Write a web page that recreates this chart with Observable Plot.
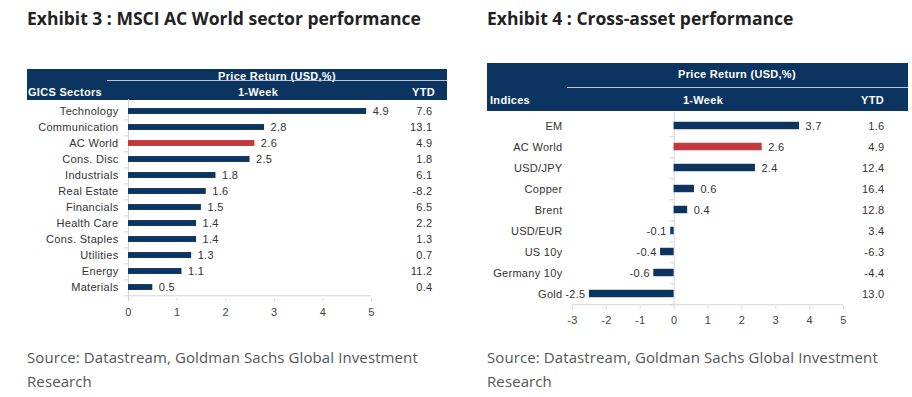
<!DOCTYPE html>
<html>
<head>
<meta charset="utf-8">
<script src="https://cdn.jsdelivr.net/npm/d3@7"></script>
<script src="https://cdn.jsdelivr.net/npm/@observablehq/plot@0.6"></script>
<style>
  html, body { margin: 0; padding: 0; background: #fff; }
  #page { position: relative; width: 912px; height: 397px; overflow: hidden; font-family: "Liberation Sans", Arial, sans-serif; }
  .title { position: absolute; top: 6px; font-family: "Open Sans", sans-serif; font-weight: 700; font-size: 17.5px; color: #222; letter-spacing: 0px; white-space: nowrap; }
  .head { position: absolute; background: #0b3461; color: #fff; font-weight: 700; font-size: 11px; letter-spacing: 0.3px; }
  .head span { position: absolute; white-space: nowrap; line-height: 12px; }
  .head .rule { position: absolute; height: 1px; background: #b9c6d6; right: 0; }
  .chart { position: absolute; }
  .source { position: absolute; top: 345px; font-family: "Open Sans", sans-serif; font-size: 15px; line-height: 24px; color: #555; letter-spacing: 0.1px; white-space: nowrap; }
</style>
</head>
<body>
<div id="page">
  <div class="title" style="left:27px">Exhibit 3 : MSCI AC World sector performance</div>
  <div class="title" style="left:487px">Exhibit 4 : Cross-asset performance</div>

  <div class="head" style="left:27px; top:69px; width:420px; height:31px;">
    <span style="left:0; width:500px; text-align:center; top:1px;">Price Return (USD,%)</span>
    <div class="rule" style="left:80px; top:11px;"></div>
    <span style="left:1px; top:17px;">GICS Sectors</span>
    <span style="left:0; width:462px; text-align:center; top:17px;">1-Week</span>
    <span style="right:12px; top:17px;">YTD</span>
  </div>

  <div class="head" style="left:487px; top:63px; width:421px; height:48px;">
    <span style="left:0; width:500px; text-align:center; top:5px;">Price Return (USD,%)</span>
    <div class="rule" style="left:80px; top:24px;"></div>
    <span style="left:3px; top:31px;">Indices</span>
    <span style="left:0; width:432px; text-align:center; top:31px;">1-Week</span>
    <span style="right:24px; top:31px;">YTD</span>
  </div>

  <div id="left" class="chart" style="left:0; top:90px;"></div>
  <div id="right" class="chart" style="left:480px; top:100px;"></div>

  <div class="source" style="left:27px">Source: Datastream, Goldman Sachs Global Investment<br>Research</div>
  <div class="source" style="left:487px">Source: Datastream, Goldman Sachs Global Investment<br>Research</div>
</div>

<script>
// MSCI AC World sectors: 1-week and year-to-date price returns (USD, %)
const sectors = ["Technology", "Communication", "AC World", "Cons. Disc", "Industrials", "Real Estate",
                 "Financials", "Health Care", "Cons. Staples", "Utilities", "Energy", "Materials"];
const sectorWeek = [4.9, 2.8, 2.6, 2.5, 1.8, 1.6, 1.5, 1.4, 1.4, 1.3, 1.1, 0.5];
const sectorYtd = ["7.6", "13.1", "4.9", "1.8", "6.1", "-8.2", "6.5", "2.2", "1.3", "0.7", "11.2", "0.4"];
const sectorTicks = [0, 1, 2, 3, 4, 5];

// Cross-asset indices: 1-week and year-to-date price returns (USD, %)
const assets = ["EM", "AC World", "USD/JPY", "Copper", "Brent", "USD/EUR", "US 10y", "Germany 10y", "Gold"];
const assetWeek = [3.7, 2.6, 2.4, 0.6, 0.4, -0.1, -0.4, -0.6, -2.5];
const assetYtd = ["1.6", "4.9", "12.4", "16.4", "12.8", "3.4", "-6.3", "-4.4", "13.0"];
const assetTicks = [-3, -2, -1, 0, 1, 2, 3, 4, 5];

const highlight = "AC World";
const navy = "#0b3461";
const red = "#c4383b";
const gridGrey = "#d4d4d4";

function panel({names, week, ytd, ticks, width, height, marginLeft, marginRight, marginTop, marginBottom, barHeight, ytdOffset, labelPad}) {
  const rows = names.map((name, i) => ({name, week: week[i], ytd: ytd[i]}));
  const innerH = height - marginTop - marginBottom;
  const step = innerH / names.length;
  const inset = (step - barHeight) / 2;
  const lo = ticks[0], hi = ticks[ticks.length - 1];
  const labelStyle = {fill: "#333", fontSize: 11};
  return Plot.plot({
    width, height, marginLeft, marginRight, marginTop, marginBottom,
    style: {fontFamily: "'Liberation Sans', Arial, sans-serif", fontSize: "11px", color: "#333", background: "transparent", letterSpacing: "0.3px"},
    x: {domain: [lo, hi], label: null},
    y: {domain: names, padding: 0, label: null},
    marks: [
      // bottom axis line and the zero line
      Plot.ruleY([names[names.length - 1]], {y: d => d, dy: step / 2, x1: lo, x2: hi, stroke: gridGrey}),
      Plot.ruleX([0], {stroke: gridGrey}),
      // small tick marks between categories on the zero line
      Plot.ruleY(names, {y: d => d, x1: 0, x2: 0, insetLeft: -4, dy: step / 2, stroke: gridGrey}),
      Plot.barX(rows, {y: "name", x: "week", fill: d => d.name === highlight ? red : navy, insetTop: inset, insetBottom: inset}),
      // 1-week value labels beside the bar ends
      Plot.text(rows.filter(d => d.week >= 0), {y: "name", x: "week", text: d => d.week.toFixed(1), textAnchor: "start", dx: 6, ...labelStyle}),
      Plot.text(rows.filter(d => d.week < 0), {y: "name", x: "week", text: d => d.week.toFixed(1), textAnchor: "end", dx: -4, ...labelStyle}),
      // YTD column
      Plot.text(rows, {y: "name", text: "ytd", frameAnchor: "right", textAnchor: "end", dx: ytdOffset, ...labelStyle}),
      Plot.axisY({tickSize: 0, tickPadding: labelPad, label: null, ...labelStyle}),
      Plot.axisX({ticks, tickFormat: d => String(d), tickSize: 3, tickPadding: 7, stroke: gridGrey, label: null, fill: "#444", fontSize: 11})
    ]
  });
}

document.getElementById("left").append(panel({
  names: sectors, week: sectorWeek, ytd: sectorYtd, ticks: sectorTicks,
  width: 456, height: 233, marginLeft: 128, marginRight: 85, marginTop: 9, marginBottom: 25,
  barHeight: 6.5, ytdOffset: 61, labelPad: 10
}));

document.getElementById("right").append(panel({
  names: assets, week: assetWeek, ytd: assetYtd, ticks: assetTicks,
  width: 432, height: 231, marginLeft: 92, marginRight: 69, marginTop: 12, marginBottom: 25,
  barHeight: 8, ytdOffset: 41, labelPad: 10
}));
</script>
</body>
</html>
